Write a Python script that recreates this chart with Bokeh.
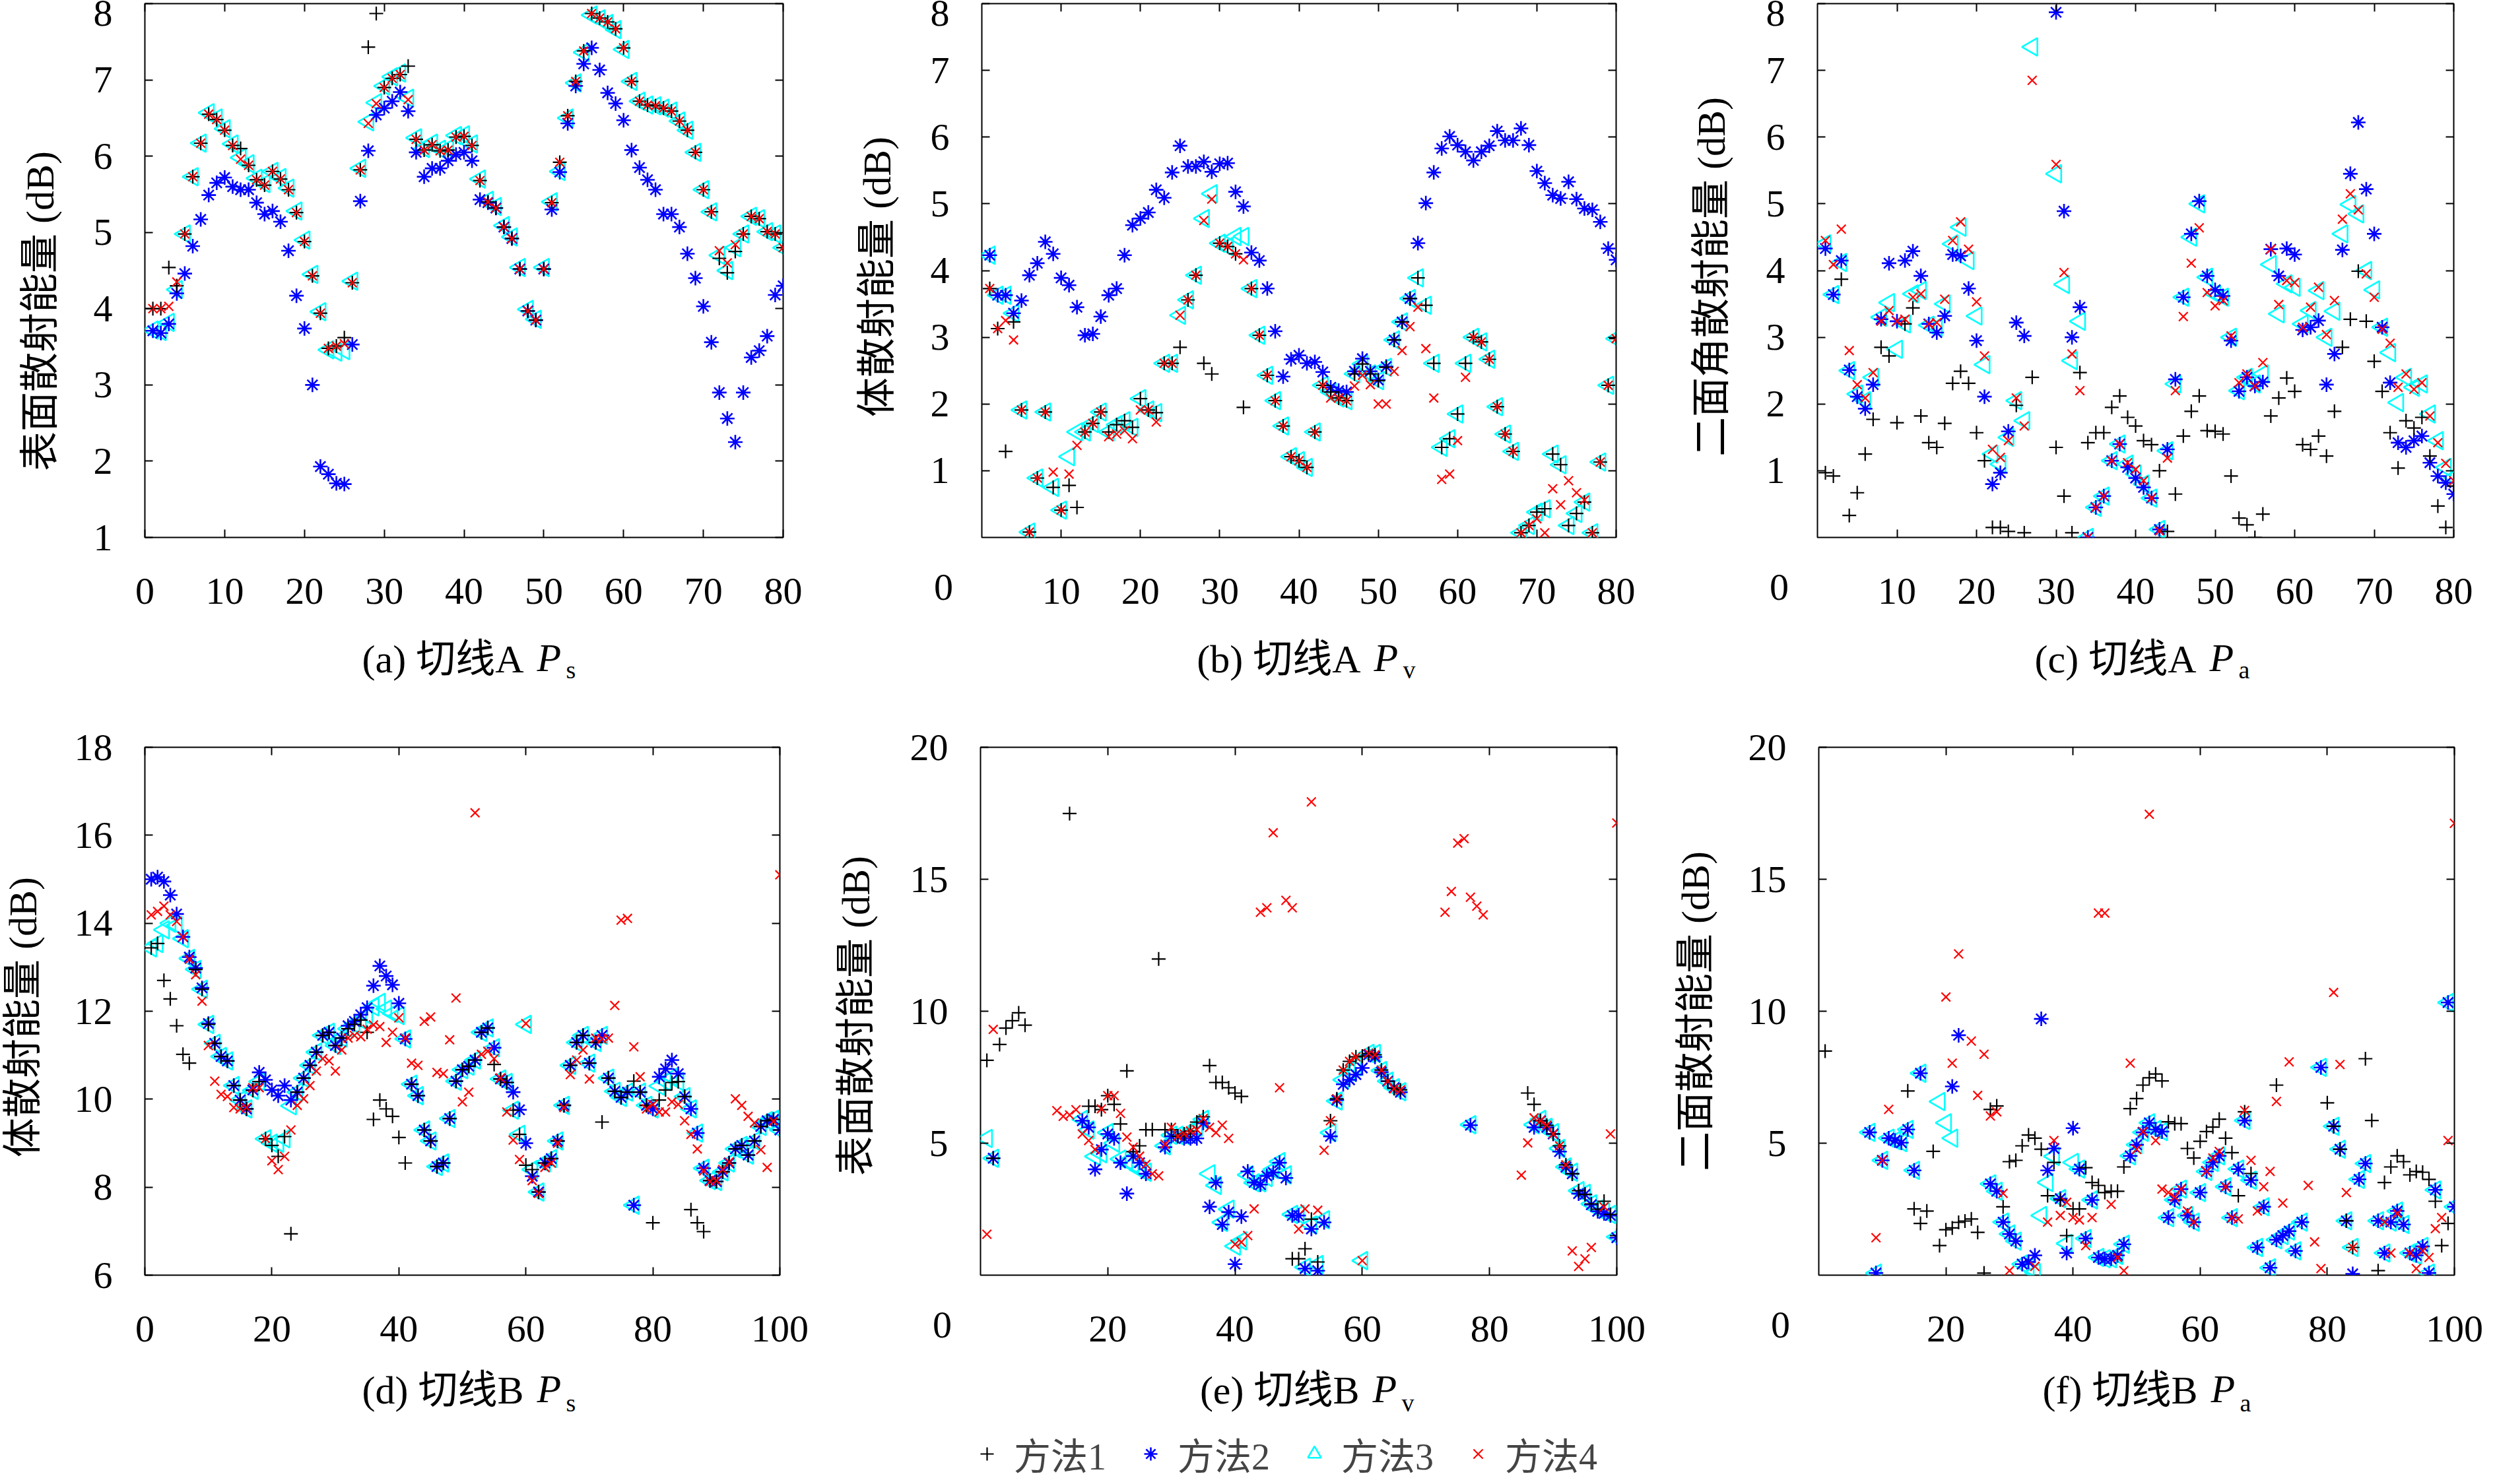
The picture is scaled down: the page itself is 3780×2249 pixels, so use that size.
import numpy as np
from bokeh.plotting import figure
from bokeh.models import Label, LinearAxis, FixedTicker, Range1d, Legend, LegendItem, ColumnDataSource
from bokeh.layouts import row, column
from bokeh.embed import file_html
from bokeh.resources import INLINE

N = None

# ---------------- panel (a): 切线A Ps ----------------
m1_a = [4.0,4.0,4.54,4.3,4.98,5.73,6.17,6.55,6.48,6.34,
        6.14,6.1,5.88,5.69,5.62,5.8,5.7,5.56,5.26,4.88,
        4.43,3.94,3.48,3.51,3.62,4.34,5.82,7.43,7.87,6.9,
        7.02,7.07,7.18,6.22,6.08,6.15,6.07,6.08,6.25,6.26,
        6.14,5.68,5.4,5.32,5.07,4.92,4.52,3.97,3.85,4.52,
        5.39,5.92,6.53,6.98,7.38,7.87,7.81,7.76,7.67,7.42,
        6.98,6.72,6.67,6.66,6.63,6.59,6.46,6.34,6.05,5.56,
        5.27,4.66,4.47,4.75,4.98,5.21,5.18,5.01,4.98,4.8]
m2_a = [3.71,3.68,3.8,4.2,4.46,4.82,5.17,5.49,5.65,5.72,
        5.6,5.56,5.56,5.39,5.24,5.28,5.14,4.76,4.17,3.74,
        3.0,1.93,1.83,1.71,1.7,3.53,5.41,6.07,6.54,6.63,
        6.72,6.84,6.59,6.05,5.73,5.84,5.84,5.94,6.02,6.05,
        5.94,5.43,5.39,5.32,5.07,4.92,4.52,3.97,3.85,4.52,
        5.3,5.79,6.43,6.92,7.21,7.42,7.13,6.83,6.69,6.47,
        6.08,5.85,5.69,5.56,5.24,5.24,5.07,4.72,4.4,4.03,
        3.56,2.9,2.56,2.25,2.9,3.36,3.45,3.64,4.18,4.3]
m3_a = [3.72,3.7,3.82,4.25,4.98,5.73,6.17,6.57,6.5,6.36,
        6.16,5.98,5.9,5.71,5.64,5.8,5.72,5.58,5.28,4.9,
        4.45,3.96,3.46,3.43,3.45,4.36,5.84,6.45,6.7,6.92,
        7.04,7.09,6.76,6.24,6.1,6.17,6.09,6.1,6.27,6.28,
        6.16,5.7,5.42,5.34,5.09,4.94,4.54,3.99,3.86,4.54,
        5.4,5.8,6.5,6.96,7.36,7.85,7.8,7.74,7.66,7.4,
        6.98,6.72,6.67,6.66,6.63,6.59,6.46,6.34,6.05,5.56,
        5.27,4.7,4.5,4.8,4.98,5.21,5.18,5.01,4.98,4.8]
m4_a = [4.0,4.0,4.03,4.35,4.98,5.73,6.17,6.55,6.48,6.34,
        6.14,5.96,5.88,5.69,5.62,5.8,5.7,5.56,5.26,4.88,
        4.43,3.94,3.48,3.51,3.54,4.34,5.82,6.43,6.69,6.9,
        7.02,7.07,6.74,6.22,6.08,6.15,6.07,6.08,6.25,6.26,
        6.14,5.68,5.4,5.32,5.07,4.92,4.52,3.97,3.85,4.52,
        5.39,5.92,6.53,6.98,7.38,7.87,7.81,7.76,7.67,7.42,
        6.98,6.72,6.67,6.66,6.63,6.59,6.46,6.34,6.05,5.56,
        5.27,4.76,4.6,4.84,4.98,5.21,5.18,5.01,4.98,4.8]

# ---------------- panel (b): 切线A Pv ----------------
m1_b = [3.73,3.13,1.29,3.23,1.91,0.08,0.89,1.88,0.75,0.41,
        0.78,0.45,1.58,1.71,1.88,1.58,1.69,1.75,1.65,2.08,
        1.91,1.87,2.61,2.61,2.85,3.56,3.93,2.61,2.45,4.41,
        4.36,4.25,1.95,3.73,3.03,2.43,2.05,1.67,1.21,1.15,
        1.05,1.58,2.28,2.18,2.09,2.05,2.45,2.6,2.45,2.35,
        2.55,2.96,3.23,3.58,3.89,3.48,2.61,1.35,1.48,1.85,
        2.61,3.0,2.93,2.67,1.96,1.55,1.29,0.07,0.18,0.38,
        0.43,1.25,1.09,0.18,0.36,0.53,0.07,1.13,2.28,2.98]
m2_b = [4.23,3.63,3.63,3.36,3.55,3.93,4.11,4.43,4.25,3.89,
        3.78,3.45,3.03,3.05,3.31,3.63,3.73,4.23,4.68,4.78,
        4.87,5.21,5.09,5.47,5.87,5.56,5.56,5.63,5.48,5.6,
        5.61,5.18,4.96,4.27,4.15,3.73,3.09,2.41,2.67,2.73,
        2.61,2.63,2.48,2.25,2.2,2.18,2.49,2.68,2.49,2.36,
        2.56,2.96,3.23,3.58,4.41,5.01,5.47,5.83,6.01,5.88,
        5.78,5.65,5.78,5.87,6.09,5.95,5.95,6.13,5.88,5.49,
        5.31,5.13,5.08,5.33,5.07,4.93,4.91,4.73,4.33,4.16]
m3_b = [4.23,3.63,3.63,3.36,1.91,0.08,0.89,1.88,0.75,0.41,
        1.21,1.58,1.58,1.71,1.88,1.58,1.69,1.75,1.65,2.08,
        1.91,1.87,2.61,2.61,3.33,3.56,3.93,4.78,5.15,4.41,
        4.36,4.51,4.51,3.73,3.03,2.43,2.05,1.67,1.21,1.15,
        1.05,1.58,2.28,2.18,2.09,2.05,2.45,2.6,2.45,2.35,
        2.55,2.96,3.23,3.58,3.89,3.48,2.61,1.35,1.48,1.85,
        2.61,3.0,2.93,2.67,1.96,1.55,1.29,0.07,0.18,0.38,
        0.43,1.25,1.09,0.18,0.36,0.53,0.07,1.13,2.28,2.98]
m4_b = [3.73,3.13,3.25,2.96,1.91,0.08,0.89,1.88,0.98,0.41,
        0.95,1.38,1.58,1.71,1.88,1.51,1.55,1.6,1.48,1.91,
        1.91,1.73,2.61,2.61,3.33,3.56,3.93,4.75,5.07,4.41,
        4.36,4.25,4.16,3.73,3.03,2.43,2.05,1.67,1.21,1.15,
        1.05,1.58,2.28,2.09,2.09,2.05,2.27,2.43,2.29,2.0,
        2.0,2.49,2.8,3.16,3.45,2.83,2.09,0.87,0.95,1.45,
        2.4,3.0,2.93,2.67,1.96,1.55,1.29,0.07,0.18,0.28,
        0.07,0.73,0.49,0.85,0.67,0.56,0.07,1.13,2.28,2.98]

# ---------------- panel (c): 切线A Pa ----------------
m1_c = [0.97,0.92,3.87,0.33,0.67,1.25,1.77,2.85,2.72,1.72,
        3.2,3.44,1.82,1.42,1.35,1.71,2.31,2.49,2.31,1.57,
        1.15,0.15,0.15,0.09,1.98,0.07,2.4,N,N,1.35,
        0.62,0.07,2.47,1.42,1.57,1.57,1.95,2.12,1.8,1.67,
        1.45,1.39,1.0,0.09,0.65,1.52,1.89,2.12,1.6,1.59,
        1.55,0.92,0.29,0.19,0.0,0.35,1.82,2.09,2.39,2.19,
        1.39,1.32,1.52,1.22,1.89,2.85,3.27,3.99,3.24,2.64,
        2.19,1.57,1.04,1.75,1.64,1.8,1.22,0.47,0.15,0.77]
m2_c = [4.33,3.64,4.15,2.51,2.11,1.93,2.29,3.27,4.11,3.24,
        4.15,4.29,3.92,3.2,3.07,3.32,4.24,4.22,3.73,2.95,
        2.11,0.8,0.97,1.59,3.22,3.02,N,N,N,7.87,
        4.89,3.0,3.45,0.0,0.45,0.62,1.15,1.4,1.05,0.89,
        0.75,0.59,0.12,1.32,2.37,3.6,4.55,5.04,3.92,3.71,
        3.62,2.95,2.19,2.4,2.27,2.33,4.32,3.92,4.33,4.24,
        3.11,3.15,3.25,2.29,2.75,4.31,5.45,6.22,5.22,4.55,
        3.15,2.32,1.42,1.35,1.45,1.52,1.12,0.92,0.82,0.65]
m3_c = [4.4,3.64,4.12,2.5,2.15,2.05,2.4,3.3,3.52,2.82,
        3.2,3.65,3.7,3.18,3.15,3.5,4.4,4.65,4.15,3.32,
        2.59,1.25,1.1,1.5,2.05,1.75,7.35,N,N,5.45,
        3.79,2.65,3.24,0.0,0.45,0.62,1.15,1.4,1.1,0.95,
        0.8,0.59,0.12,1.3,2.3,3.6,4.5,5.0,3.9,3.65,
        3.6,3.0,2.2,2.4,2.3,2.45,4.09,3.35,3.8,3.75,
        3.2,3.4,3.7,3.0,3.39,4.55,4.99,4.85,4.0,3.71,
        3.15,2.77,2.02,2.4,2.25,2.3,1.85,1.45,1.05,0.9]
m4_c = [4.45,4.09,4.62,2.8,2.29,2.09,2.47,3.24,3.4,3.24,
        3.27,3.6,3.65,3.2,3.22,3.57,4.45,4.73,4.32,3.53,
        2.72,1.32,1.2,1.45,2.09,1.67,6.85,N,N,5.59,
        3.97,2.75,2.2,0.0,0.45,0.62,1.15,1.4,1.12,1.02,
        0.85,0.59,0.1,1.19,2.2,3.31,4.11,4.64,3.67,3.47,
        3.55,3.02,2.32,2.45,2.27,2.62,4.32,3.49,3.85,3.82,
        3.15,3.45,3.75,3.04,3.55,4.77,5.15,4.91,3.95,3.6,
        3.12,2.91,2.25,2.45,2.22,2.32,1.82,1.42,1.11,0.85]

# ---------------- panel (d): 切线B Ps ----------------
m1_d = [13.44,13.54,12.7,12.28,11.67,11.02,10.82,12.95,12.5,11.7,
        11.27,10.97,10.87,10.31,9.98,9.78,10.2,10.4,9.1,8.95,
        8.7,9.15,6.94,10.16,10.48,10.77,11.07,11.45,11.52,11.22,
        11.39,11.6,11.7,11.8,11.52,9.54,9.98,9.78,9.61,9.13,
        8.55,10.34,10.08,9.3,9.05,8.47,8.55,9.56,10.41,10.67,
        10.75,10.89,11.52,11.62,10.79,10.46,10.38,9.75,9.2,8.5,
        8.4,7.89,8.55,8.65,9.05,9.86,10.77,11.29,11.45,10.82,
        11.29,9.48,10.48,10.18,10.04,10.16,10.41,10.16,9.86,7.19,
        9.98,10.21,10.38,10.4,10.06,7.49,7.19,6.99,8.15,8.13,
        8.35,8.55,8.87,8.95,8.73,9.05,9.38,9.51,9.54,9.3]
m2_d = [15.0,15.05,14.95,14.64,14.21,13.69,13.23,12.98,12.53,11.72,
        11.27,10.97,10.87,10.31,9.98,9.78,10.21,10.61,10.44,10.21,
        10.08,10.31,9.98,10.16,10.48,10.77,11.07,11.45,11.52,11.22,
        11.39,11.67,11.77,11.92,12.08,12.58,13.03,12.8,12.6,12.18,
        11.37,10.34,10.08,9.3,9.05,8.47,8.55,9.56,10.41,10.67,
        10.75,10.89,11.52,11.62,11.17,10.46,10.38,10.16,9.76,9.0,
        8.25,7.89,8.55,8.65,9.05,9.86,10.77,11.29,11.45,10.82,
        11.29,11.45,10.48,10.18,10.04,10.16,7.59,10.16,9.86,9.78,
        10.51,10.69,10.89,10.58,10.06,9.78,9.23,8.43,8.15,8.13,
        8.35,8.55,8.87,8.95,8.73,9.05,9.38,9.51,9.54,9.3]
m3_d = [13.44,13.54,13.85,14.0,13.95,13.65,13.2,12.95,12.5,11.7,
        11.27,10.97,10.87,10.31,9.98,9.78,10.2,10.4,9.1,9.0,
        9.0,9.1,9.85,10.16,10.48,10.77,11.07,11.45,11.52,11.22,
        11.39,11.6,11.7,11.8,11.9,12.1,12.2,12.05,11.95,11.9,
        11.37,10.34,10.08,9.3,9.05,8.47,8.55,9.56,10.41,10.67,
        10.75,10.89,11.52,11.62,11.17,10.46,10.38,9.75,9.2,11.7,
        8.4,7.89,8.55,8.65,9.05,9.86,10.77,11.29,11.45,10.82,
        11.29,11.45,10.48,10.18,10.04,10.16,7.59,10.16,9.86,9.78,
        10.3,10.4,10.5,10.4,10.06,9.78,9.23,8.43,8.15,8.13,
        8.35,8.55,8.87,8.95,8.73,9.05,9.38,9.51,9.54,9.3]
m4_d = [14.19,14.27,14.39,14.19,14.04,13.69,13.18,12.83,12.23,11.22,
        10.41,10.11,10.06,9.81,9.78,9.81,10.26,10.26,9.1,8.6,
        8.4,8.7,9.3,9.86,10.01,10.31,10.64,10.92,10.87,10.64,
        11.12,11.39,11.45,11.42,11.59,11.69,11.65,11.29,11.52,11.85,
        11.39,10.82,10.77,11.77,11.87,10.61,10.58,11.35,12.3,9.94,
        10.16,16.51,11.02,11.09,10.92,10.48,9.71,9.07,8.63,11.72,
        8.15,7.86,8.45,8.55,9.0,9.81,10.56,10.89,11.12,10.46,
        11.39,11.37,11.39,12.13,14.07,14.11,11.19,10.51,9.78,9.88,
        9.71,9.71,9.94,9.88,9.51,9.2,8.87,8.37,8.13,8.15,
        8.4,8.57,10.01,9.86,9.61,9.46,8.85,8.45,9.5,15.1]

# ---------------- panel (e): 切线B Pv ----------------
m1_e = [8.14,4.43,8.74,9.36,9.64,9.94,9.47,N,N,N,
        N,N,N,17.49,N,N,6.4,6.4,6.27,6.8,
        6.47,5.73,7.74,4.68,4.9,5.51,5.51,11.98,5.51,5.51,
        5.26,5.35,5.46,5.8,6.0,7.94,7.3,7.3,7.1,6.9,
        6.77,N,N,N,N,N,N,N,0.62,0.62,
        1.0,2.12,0.5,N,5.85,6.68,7.77,8.1,8.27,8.3,
        8.4,8.35,7.77,7.35,7.07,7.02,N,N,N,N,
        N,N,N,N,N,N,N,N,N,N,
        N,N,N,N,N,6.9,6.47,5.85,5.68,5.35,
        4.9,4.18,3.84,3.2,3.06,2.7,2.5,2.8,2.3,1.5]
m2_e = [N,4.43,N,N,N,N,N,N,N,N,
        N,N,N,N,N,5.85,5.6,4.01,4.76,5.35,
        5.18,4.26,3.09,4.51,4.26,3.84,N,N,4.85,5.26,
        5.26,5.18,5.18,5.18,5.76,2.59,3.51,1.92,2.39,0.42,
        2.22,3.93,3.51,3.43,3.76,3.89,4.26,3.68,2.26,2.26,
        0.25,1.75,0.17,2.0,5.26,6.63,7.23,7.4,7.6,7.85,
        8.35,8.27,7.69,7.35,7.1,6.93,N,N,N,N,
        N,N,N,N,N,N,5.68,N,N,N,
        N,N,N,N,N,N,5.6,5.85,5.6,5.35,
        4.68,4.09,3.84,3.09,3.06,2.67,2.42,2.34,2.26,1.42]
m3_e = [5.18,4.43,N,N,N,N,N,N,N,N,
        N,N,N,N,N,5.9,5.5,4.5,4.6,5.4,
        5.0,4.4,4.3,4.2,4.0,3.9,N,N,4.9,5.3,
        5.3,5.3,5.4,5.6,5.9,3.84,3.4,2.0,2.5,1.1,
        1.3,3.8,3.5,3.5,3.7,4.0,4.3,3.8,2.3,2.3,
        0.3,1.9,0.4,2.1,5.4,6.6,7.4,7.7,7.9,0.55,
        8.4,8.4,7.75,7.35,7.1,6.95,N,N,N,N,
        N,N,N,N,N,N,5.7,N,N,N,
        N,N,N,N,N,N,5.7,5.9,5.6,5.4,
        4.8,4.1,3.9,3.2,3.1,2.7,2.5,2.4,2.3,1.45]
m4_e = [1.55,9.31,N,N,N,N,N,N,N,N,
        N,6.23,6.02,6.07,6.27,5.35,5.1,4.76,6.3,6.8,
        6.8,6.13,5.23,4.85,4.51,4.2,3.84,3.76,4.96,5.6,
        5.26,5.35,5.46,5.51,5.93,5.6,5.4,5.68,5.18,1.17,
        1.25,1.5,2.51,13.75,13.92,16.76,7.1,14.2,13.92,1.75,
        2.51,17.93,2.46,4.73,5.85,6.68,7.77,8.1,8.27,0.55,
        8.4,8.35,7.77,7.35,7.07,7.02,N,N,N,N,
        N,N,13.75,14.54,16.37,16.54,14.32,13.98,13.65,N,
        N,N,N,N,3.79,5.01,5.96,5.85,5.68,5.35,
        4.9,4.18,0.92,0.33,0.62,1.05,N,2.59,5.35,17.13]

# ---------------- panel (f): 切线B Pa ----------------
m1_f = [8.49,N,N,N,N,N,N,N,N,N,
        N,N,N,6.98,2.51,1.96,2.43,4.69,1.12,1.72,
        1.79,2.0,2.05,2.13,1.62,0.08,6.28,6.41,2.59,4.3,
        4.35,4.9,5.31,5.19,4.77,3.01,4.27,2.85,1.5,2.51,
        2.51,4.07,3.51,3.4,3.13,3.18,3.18,4.1,6.31,6.69,
        7.2,7.48,7.62,7.36,5.81,5.74,5.74,4.8,4.44,5.07,
        5.44,5.61,5.91,5.19,4.64,3.01,6.19,3.85,N,N,
        N,7.2,N,N,N,N,N,N,N,6.53,
        5.64,4.77,2.06,1.05,N,8.2,5.86,0.17,3.51,4.1,
        4.52,4.3,3.8,3.93,3.9,3.63,2.8,1.12,1.96,N]
m2_f = [N,N,N,N,N,N,N,5.41,0.08,4.35,
        5.19,5.1,5.02,5.52,3.97,7.65,N,N,N,N,
        7.15,9.09,N,N,N,N,3.46,3.18,2.01,1.56,
        1.29,0.42,0.5,0.75,9.71,3.97,4.8,2.9,0.84,5.57,
        4.02,1.39,2.85,0.67,0.62,0.62,0.75,1.17,4.52,4.94,
        5.41,5.77,5.52,5.44,2.18,2.85,3.26,2.26,2.01,3.13,
        3.93,4.27,4.52,3.35,2.18,4.02,5.86,3.6,1.05,2.59,
        0.28,1.34,1.5,1.67,0.92,2.01,N,N,7.87,N,
        5.64,4.77,2.06,0.05,3.63,4.23,N,2.06,0.84,2.01,
        2.43,1.92,0.84,0.75,1.09,0.08,3.23,N,10.33,2.59]
m3_f = [N,N,N,N,N,N,N,5.41,0.08,4.35,
        5.19,5.1,5.02,5.52,3.97,7.65,N,N,6.58,5.77,
        5.19,N,N,N,N,N,3.46,3.18,2.01,1.56,
        1.29,0.42,0.3,0.1,2.26,3.51,4.5,2.9,1.2,4.27,
        4.02,1.39,2.85,0.67,0.62,0.62,0.75,1.17,4.52,4.94,
        5.41,5.77,5.52,5.44,2.18,2.85,3.26,2.26,2.01,3.13,
        3.93,4.27,4.52,3.35,2.18,4.02,5.86,3.6,1.05,2.59,
        0.28,1.34,1.5,1.67,0.92,2.01,N,N,7.87,N,
        5.64,4.77,2.06,1.05,3.63,4.23,N,2.06,0.84,2.01,
        2.43,1.92,0.84,0.75,1.09,0.08,3.23,N,10.33,2.59]
m4_f = [N,N,N,N,N,N,N,N,1.42,4.35,
        6.28,N,N,N,N,N,N,N,N,10.54,
        8.03,12.17,N,8.87,6.81,8.37,6.03,6.19,3.1,0.17,
        N,N,N,0.33,N,2.01,5.1,2.26,2.76,2.18,
        2.09,1.12,2.18,13.72,13.72,2.68,0.67,0.17,8.03,4.77,
        5.44,17.46,5.1,3.26,3.13,2.96,3.26,2.43,2.01,N,
        3.93,4.44,4.69,3.35,2.18,2.13,6.24,4.35,2.43,3.35,
        3.93,6.58,2.73,8.08,N,N,3.4,1.26,0.25,N,
        10.71,7.98,3.13,1.05,N,N,N,N,2.01,0.84,
        2.34,N,0.84,0.25,0.92,0.67,1.76,2.18,5.1,17.12]

# tick values / texts
xt_a = [0, 10, 20, 30, 40, 50, 60, 70, 80]
xt_bc = [10, 20, 30, 40, 50, 60, 70, 80]
yt_a = [1, 2, 3, 4, 5, 6, 7, 8]
yt_bc = [1, 2, 3, 4, 5, 6, 7, 8]
xt_d = [0, 20, 40, 60, 80, 100]
xt_ef = [20, 40, 60, 80, 100]
yt_d = [6, 8, 10, 12, 14, 16, 18]
yt_ef = [5, 10, 15, 20]
method_names = ["方法1", "方法2", "方法3", "方法4"]

SERIF = "'Liberation Serif', 'Noto Sans CJK SC', serif"
DIGITS = "'Liberation Serif', serif"

STYLES = [
    dict(marker="cross", size=21, line_color="#000000", line_width=2.2),
    dict(marker="asterisk", size=22, line_color="#0000ff", line_width=2.6),
    dict(marker="triangle", angle=np.pi / 2, size=27, fill_color=None,
         line_color="#00ffff", line_width=2.6),
    dict(marker="x", size=19, line_color="#ff0000", line_width=2.2),
]


def style_axis(ax, ticks, show_labels, standoff=0):
    ax.ticker = FixedTicker(ticks=ticks)
    ax.axis_line_color = None
    ax.major_tick_in = 12
    ax.major_tick_out = 0
    ax.major_tick_line_width = 2
    ax.major_tick_line_color = "black"
    ax.minor_tick_line_color = None
    if show_labels:
        ax.major_label_text_font = DIGITS
        ax.major_label_text_font_size = "58px"
        ax.major_label_text_color = "black"
        ax.major_label_standoff = standoff
    else:
        ax.major_label_text_font_size = "1px"
        ax.major_label_text_color = None
        ax.major_label_standoff = 0


def clabel(text, x, y, size="60px", align="left", angle=0.0, style="normal", font=SERIF):
    return Label(x=x, y=y, x_units="canvas", y_units="canvas", text=text, angle=angle,
                 text_align=align, text_baseline="middle", text_font=font,
                 text_font_size=size, text_font_style=style, text_color="black")


def make_panel(sp):
    p = figure(width=sp["W"], height=sp["H"],
               x_range=Range1d(*sp["xr"]), y_range=Range1d(*sp["yr"]),
               output_backend="svg", toolbar_location=None,
               min_border_left=sp["bl"], min_border_right=sp["br"],
               min_border_top=sp["bt"], min_border_bottom=sp["bb"])
    p.xgrid.visible = False
    p.ygrid.visible = False
    p.outline_line_color = "black"
    p.outline_line_width = 2
    p.outline_line_alpha = 1.0
    p.background_fill_color = "white"
    p.border_fill_color = "white"
    style_axis(p.xaxis[0], sp["xt"], True, 62)
    style_axis(p.yaxis[0], sp["yt"], True, 49)
    top = LinearAxis()
    style_axis(top, sp["xt"], False)
    p.add_layout(top, "above")
    right = LinearAxis()
    style_axis(right, sp["yt"], False)
    p.add_layout(right, "right")

    xs = np.arange(1, len(sp["data"][0]) + 1)
    # draw order: method 3, method 2, method 1, method 4
    for idx in (2, 1, 0, 3):
        src = ColumnDataSource(dict(x=xs, y=np.array(sp["data"][idx], dtype=float)))
        p.scatter("x", "y", source=src, **STYLES[idx])

    bl, bt, fh = sp["bl"], sp["bt"], sp["fh"]
    fbot = bt + fh  # canvas y of the frame bottom
    p.add_layout(clabel(sp["ylabel"], bl + sp["ylx"], fbot - sp["yly"],
                        align="center", angle=np.pi / 2), "left")
    if sp["origin"]:
        p.add_layout(clabel("0", bl - 58, fbot + 75, size="58px", align="center",
                            font=DIGITS), "left")
    cy, sy = sp["capy"]
    p.add_layout(clabel(sp["cap"], bl + 574, fbot + cy, align="right"), "below")
    p.add_layout(clabel("P", bl + 594, fbot + cy - 2, style="italic", font=DIGITS), "right")
    p.add_layout(clabel(sp["sub"], bl + 638, fbot + sy, size="38px", font=DIGITS), sp["subside"])
    return p


H1, H2, H3 = 1067, 1080, 86
specs = [
    dict(data=(m1_a, m2_a, m3_a, m4_a), W=1252, H=H1, bl=219, br=66, bt=5, bb=253, fh=809,
         xr=(0, 80), yr=(1, 8), xt=xt_a, yt=yt_a, origin=False,
         ylabel="表面散射能量 (dB)", ylx=-159, yly=343, cap="(a) 切线A", sub="s", capy=(184, 200),
         subside="right"),
    dict(data=(m1_b, m2_b, m3_b, m4_b), W=1260, H=H1, bl=235, br=64, bt=5, bb=253, fh=809,
         xr=(0, 80), yr=(0, 8), xt=xt_bc, yt=yt_bc, origin=True,
         ylabel="体散射能量 (dB)", ylx=-159, yly=395, cap="(b) 切线A", sub="v", capy=(184, 200),
         subside="right"),
    dict(data=(m1_c, m2_c, m3_c, m4_c), W=1252, H=H1, bl=241, br=47, bt=5, bb=253, fh=809,
         xr=(0, 80), yr=(0, 8), xt=xt_bc, yt=yt_bc, origin=True,
         ylabel="二面角散射能量 (dB)", ylx=-161, yly=395, cap="(c) 切线A", sub="a", capy=(184, 200),
         subside="left"),
    dict(data=(m1_d, m2_d, m3_d, m4_d), W=1252, H=H2, bl=219, br=71, bt=65, bb=215, fh=800,
         xr=(0, 100), yr=(6, 18), xt=xt_d, yt=yt_d, origin=False,
         ylabel="体散射能量 (dB)", ylx=-185, yly=391, cap="(d) 切线B", sub="s", capy=(174, 193),
         subside="right"),
    dict(data=(m1_e, m2_e, m3_e, m4_e), W=1260, H=H2, bl=233, br=63, bt=65, bb=215, fh=800,
         xr=(0, 100), yr=(0, 20), xt=xt_ef, yt=yt_ef, origin=True,
         ylabel="表面散射能量 (dB)", ylx=-189, yly=393, cap="(e) 切线B", sub="v", capy=(174, 193),
         subside="right"),
    dict(data=(m1_f, m2_f, m3_f, m4_f), W=1252, H=H2, bl=243, br=46, bt=65, bb=215, fh=800,
         xr=(0, 100), yr=(0, 20), xt=xt_ef, yt=yt_ef, origin=True,
         ylabel="二面散射能量 (dB)", ylx=-187, yly=400, cap="(f) 切线B", sub="a", capy=(174, 193),
         subside="left"),
]

figs = [make_panel(sp) for sp in specs]

# legend strip (legend-only renderers hold a single NaN so that the key glyphs are drawn)
lf = figure(width=3764, height=H3, x_range=Range1d(0, 1), y_range=Range1d(0, 1),
            output_backend="svg", toolbar_location=None, min_border=0,
            x_axis_type=None, y_axis_type=None)
lf.outline_line_color = None
lf.background_fill_color = "white"
lf.border_fill_color = "white"
leg_rs = []
for idx in range(4):
    src = ColumnDataSource(dict(x=[np.nan], y=[np.nan]))
    leg_rs.append(lf.scatter("x", "y", source=src, **STYLES[idx]))
leg = Legend(items=[LegendItem(label=lab, renderers=[rr]) for lab, rr in zip(method_names, leg_rs)],
             orientation="horizontal", location=(1470, -10),
             label_text_font=SERIF, label_text_font_size="56px",
             glyph_width=50, glyph_height=50, spacing=42, label_standoff=16,
             padding=0, margin=0, border_line_color=None, background_fill_alpha=0)
lf.add_layout(leg)

layout = column(row(figs[0], figs[1], figs[2]), row(figs[3], figs[4], figs[5]), lf)
open("out.html", "w").write(file_html(layout, INLINE))
